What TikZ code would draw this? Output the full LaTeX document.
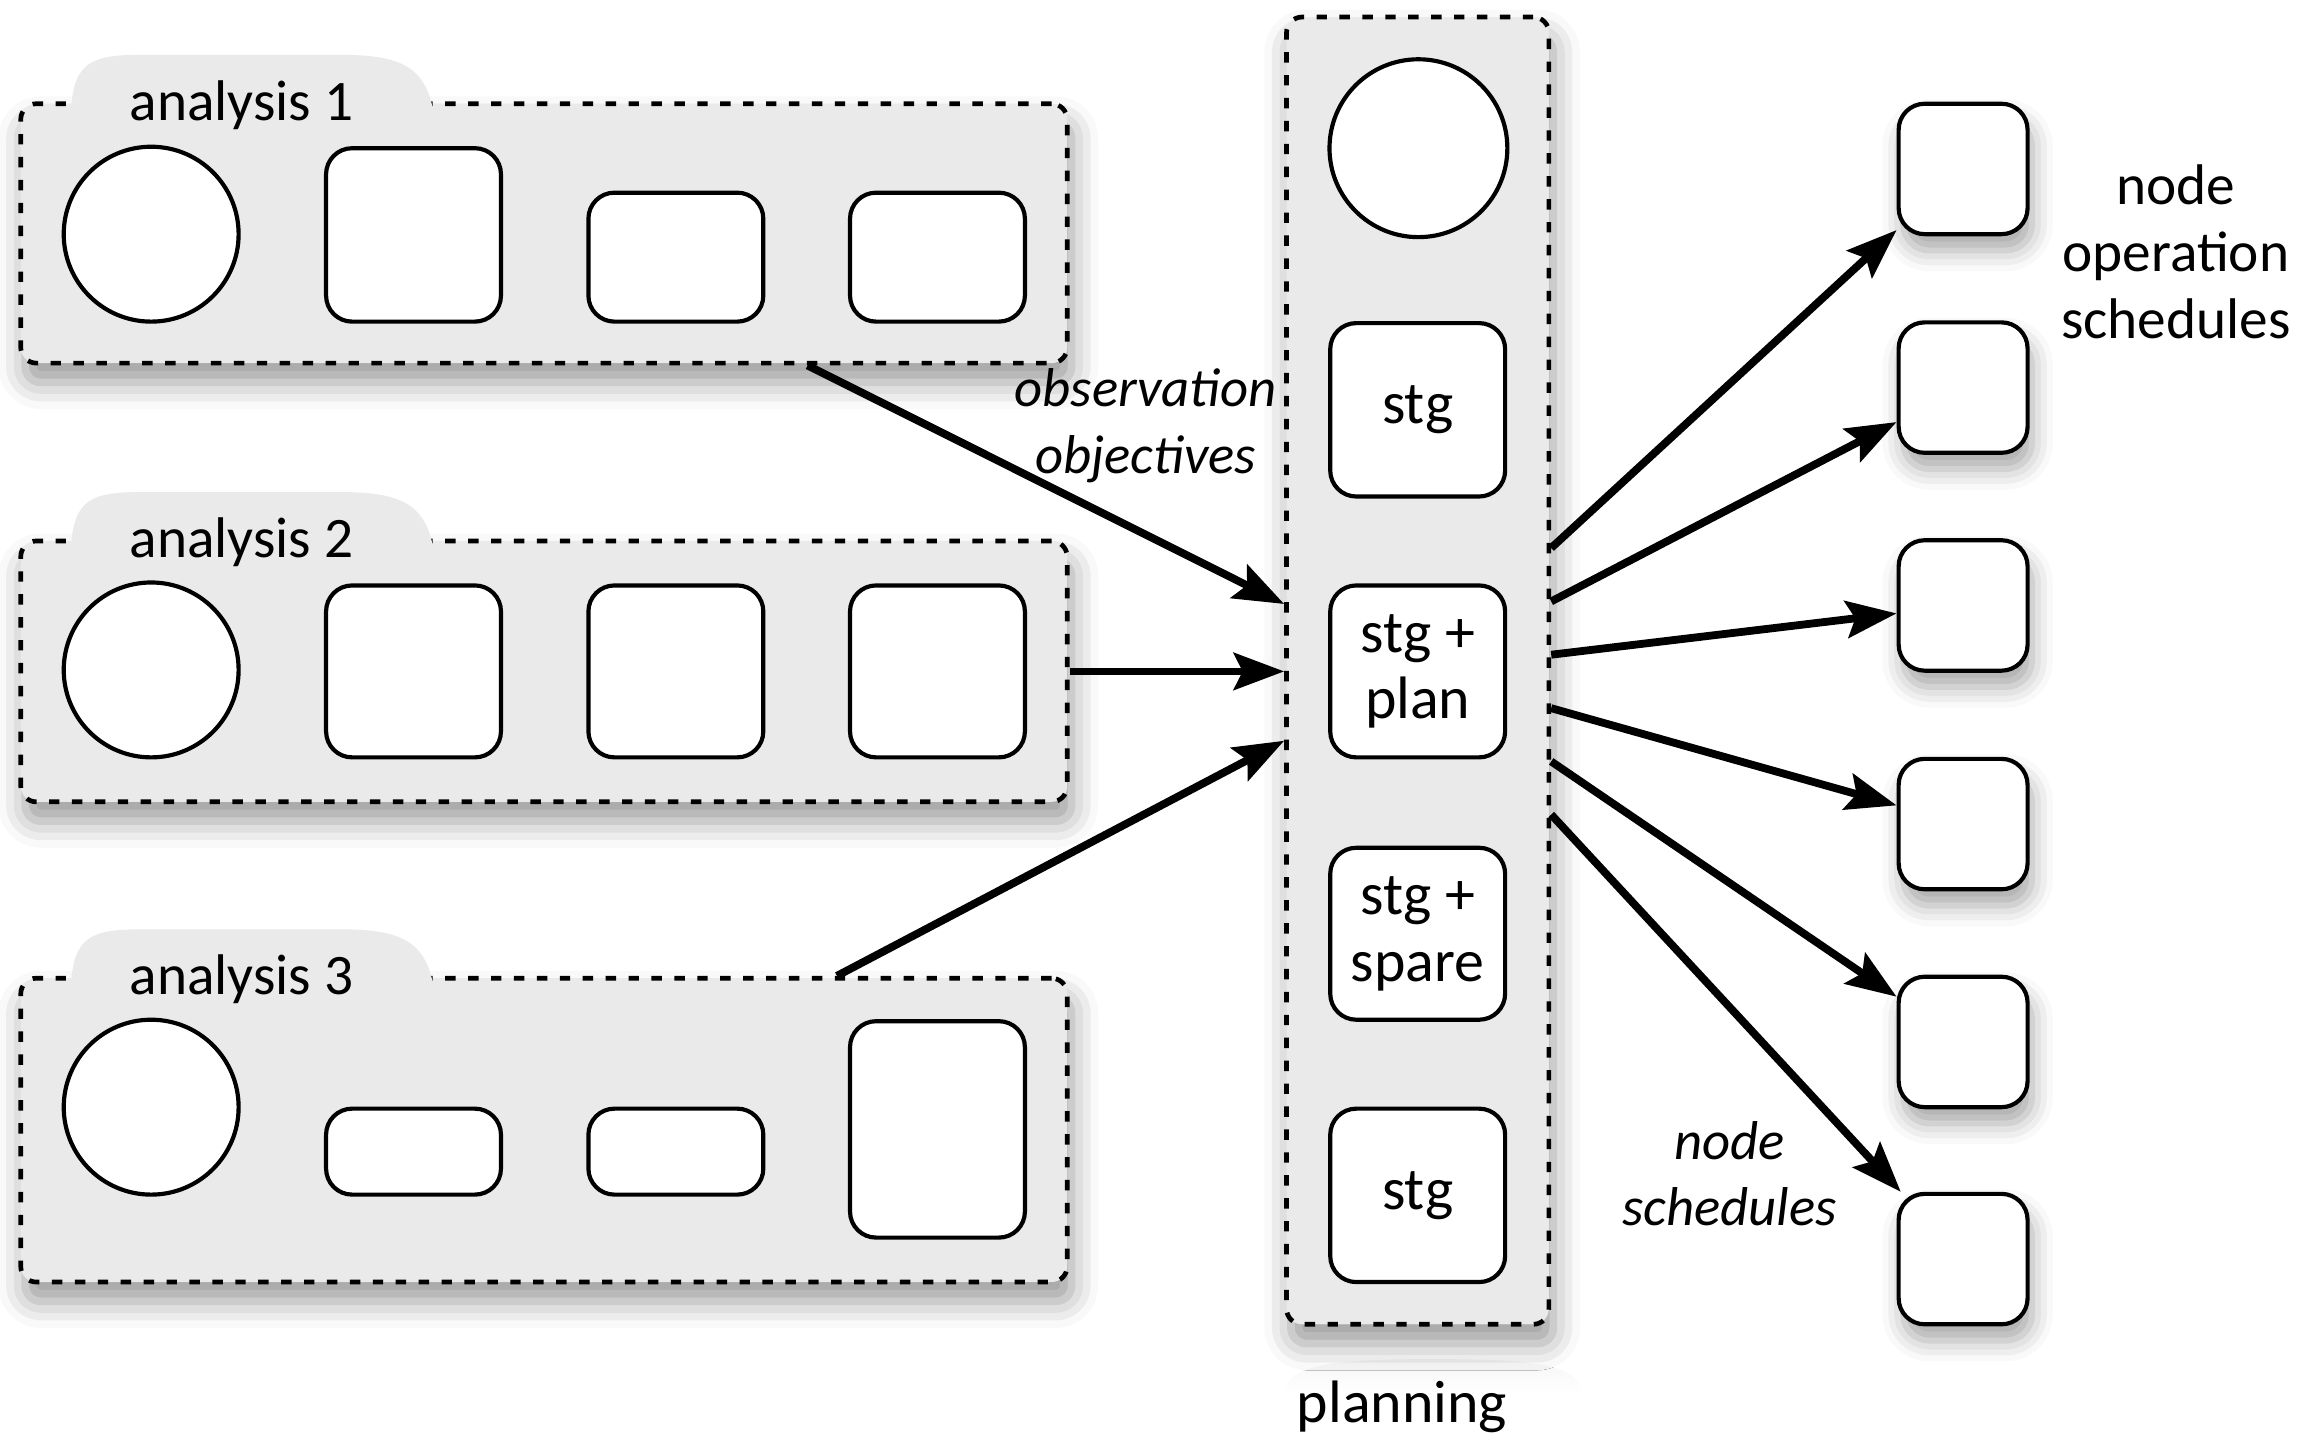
\documentclass[tikz,border=0pt]{standalone}
\usepackage{fontspec}
\setmainfont{Carlito}
\usetikzlibrary{arrows.meta,shadows.blur}
\definecolor{panelgray}{HTML}{EAEAEA}

\begin{document}
\begin{tikzpicture}[x=1cm,y=-1cm,font=\fontsize{11.5}{12.8}\selectfont]
		\tikzstyle{panel}=[draw,rectangle,rounded corners=3pt,fill=panelgray,line width=0.9pt,dash pattern=on 2pt off 2.4pt,inner sep=0pt,blur shadow={shadow xshift=0.3mm,shadow yshift=-1.3mm,shadow blur radius=1.8mm,shadow opacity=40}]
		\tikzstyle{item}=[draw,rectangle,rounded corners=5pt,fill=white,line width=0.8pt,inner sep=0pt,align=center,minimum width=1.18cm]
		\tikzstyle{ring}=[draw,circle,fill=white,line width=0.8pt,inner sep=0pt,minimum size=1.18cm]
		\tikzstyle{sched}=[item,minimum width=0.87cm,minimum height=0.88cm,blur shadow={shadow xshift=0.3mm,shadow yshift=-1.1mm,shadow blur radius=1.4mm,shadow opacity=35}]
		\tikzstyle{arr}=[-{Stealth[length=3.4mm,width=2.5mm,inset=0.6mm]},line width=1.5pt]
		\tikzstyle{tag}=[anchor=base,font=\fontsize{11}{12.8}\selectfont]
		\tikzstyle{note}=[align=center,font=\fontsize{10.5}{12.8}\selectfont\itshape]

		\useasboundingbox (0,0) rectangle (15.68,9.82);

		% analysis 1
		\node[panel,minimum width=7.06cm,minimum height=1.75cm] (an1) at (3.67,1.575) {};
		\fill[panelgray] (0.48,0.73) .. controls (0.50,0.42) and (0.62,0.37) .. (0.95,0.37) -- (2.30,0.37) .. controls (2.70,0.37) and (2.86,0.45) .. (2.92,0.73) -- cycle;
		\node[tag] (an1lbl) at (1.63,0.81) {analysis 1};
		\node[ring] (an1c) at (1.02,1.58) {};
		\node[item,minimum height=1.17cm] (an1b) at (2.79,1.585) {};
		\node[item,minimum height=0.87cm] (an1d) at (4.56,1.735) {};
		\node[item,minimum height=0.87cm] (an1e) at (6.325,1.735) {};

		% analysis 2
		\node[panel,minimum width=7.06cm,minimum height=1.76cm] (an2) at (3.67,4.53) {};
		\fill[panelgray] (0.48,3.68) .. controls (0.50,3.37) and (0.62,3.32) .. (0.95,3.32) -- (2.30,3.32) .. controls (2.70,3.32) and (2.86,3.40) .. (2.92,3.68) -- cycle;
		\node[tag] (an2lbl) at (1.63,3.76) {analysis 2};
		\node[ring] (an2c) at (1.02,4.52) {};
		\node[item,minimum height=1.16cm] (an2b) at (2.79,4.53) {};
		\node[item,minimum height=1.16cm] (an2d) at (4.56,4.53) {};
		\node[item,minimum height=1.16cm] (an2e) at (6.325,4.53) {};

		% analysis 3
		\node[panel,minimum width=7.06cm,minimum height=2.05cm] (an3) at (3.67,7.625) {};
		\fill[panelgray] (0.48,6.63) .. controls (0.50,6.32) and (0.62,6.27) .. (0.95,6.27) -- (2.30,6.27) .. controls (2.70,6.27) and (2.86,6.35) .. (2.92,6.63) -- cycle;
		\node[tag] (an3lbl) at (1.63,6.71) {analysis 3};
		\node[ring] (an3c) at (1.02,7.47) {};
		\node[item,minimum height=0.58cm] (an3b) at (2.79,7.77) {};
		\node[item,minimum height=0.58cm] (an3d) at (4.56,7.77) {};
		\node[item,minimum height=1.46cm] (an3e) at (6.325,7.62) {};

		% planning
		\shade[top color=gray!7,bottom color=white] (8.66,9.40) .. controls (8.70,9.20) and (9.00,9.17) .. (9.67,9.17) .. controls (10.34,9.17) and (10.64,9.20) .. (10.68,9.40) -- cycle;
		\node[panel,minimum width=1.77cm,minimum height=8.82cm] (pl) at (9.565,4.525) {};
		\node[ring,minimum size=1.2cm] (plc) at (9.57,1.00) {};
		\node[item,minimum height=1.17cm] (st1) at (9.565,2.765) {stg};
		\node[item,minimum height=1.16cm] (stp) at (9.565,4.53) {stg +\\plan};
		\node[item,minimum height=1.16cm] (sts) at (9.565,6.30) {stg +\\spare};
		\node[item,minimum height=1.17cm] (st2) at (9.565,8.065) {stg};
		\node[anchor=base] (pllbl) at (9.46,9.60) {planning};

		% node operation schedules
		\node[sched] (o1) at (13.245,1.14) {};
		\node[sched] (o2) at (13.245,2.615) {};
		\node[sched] (o3) at (13.245,4.085) {};
		\node[sched] (o4) at (13.245,5.56) {};
		\node[sched] (o5) at (13.245,7.03) {};
		\node[sched] (o6) at (13.245,8.495) {};
		\node[align=center,font=\fontsize{11}{12.8}\selectfont] (oplbl) at (14.68,1.70) {node\\operation\\schedules};

		\node[note] (obslbl) at (7.73,2.87) {observation\\objectives};
		\node[note] (nslbl) at (11.67,7.92) {node\\schedules};

		\draw[arr] (an1) -- (pl);
		\draw[arr] (an2.east) -- (an2.east -| pl.west);
		\draw[arr] (an3) -- (pl);

		\draw[arr] (pl) -- (o1);
		\draw[arr] (pl) -- (o2);
		\draw[arr] (pl) -- (o3);
		\draw[arr] (pl) -- (o4);
		\draw[arr] (pl) -- (o5);
		\draw[arr] (pl) -- (o6);

		\end{tikzpicture}
\end{document}
